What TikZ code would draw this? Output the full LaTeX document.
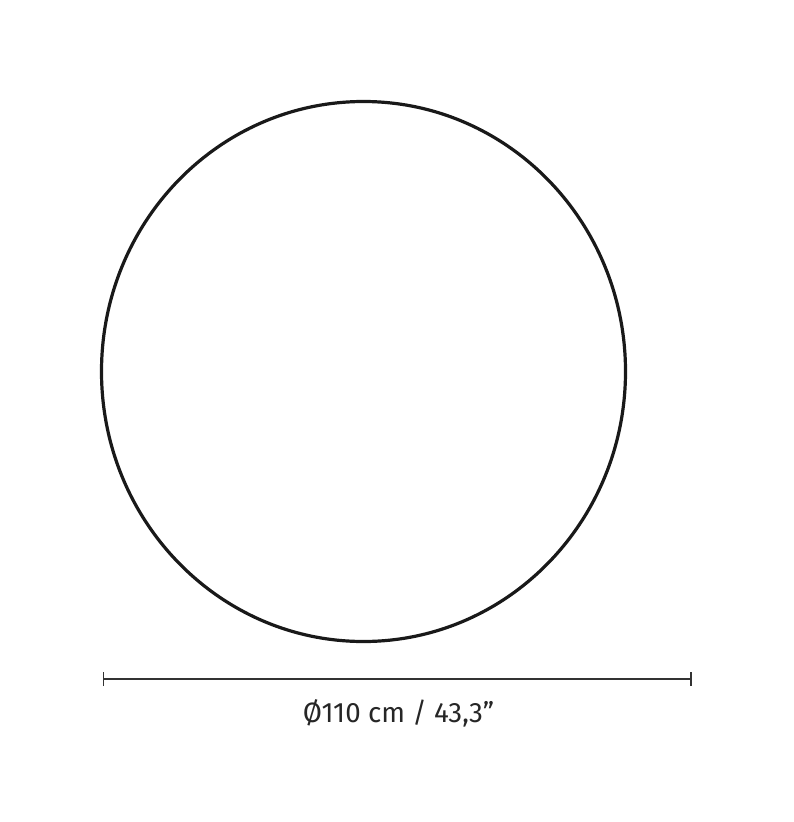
\documentclass[tikz,border=0pt]{standalone}
\usepackage{fontspec}
\setmainfont{Fira Sans}
\usepackage{tikz}

\begin{document}
\begin{tikzpicture}[x=1pt,y=-1pt,
                    outline/.style={draw=black!90,line width=3.2pt},
                    dimline/.style={draw=black!80,line width=1.9pt},
                    dimtick/.style={draw=black!80,line width=1.9pt}
                    ]
                    \useasboundingbox (0,0) rectangle (793,822);
                    \coordinate (centre) at (363.5,371.5);
                    \draw[outline] (centre) ellipse[x radius=262,y radius=270];
                    \coordinate (dimL) at (103.5,679);
                    \coordinate (dimR) at (691,679);
                    \draw[dimline] (dimL) -- (dimR);
                    \draw[dimtick] ([yshift=-7]dimL) -- ([yshift=7]dimL);
                    \draw[dimtick] ([yshift=-7]dimR) -- ([yshift=7]dimR);
                    \node[anchor=base,inner sep=0pt,text=black!85,xscale=0.99,
                        font=\fontsize{28}{30}\selectfont] (label) at (398.5,722) {Ø110 cm / 43,3”};
                \end{tikzpicture}
\end{document}
